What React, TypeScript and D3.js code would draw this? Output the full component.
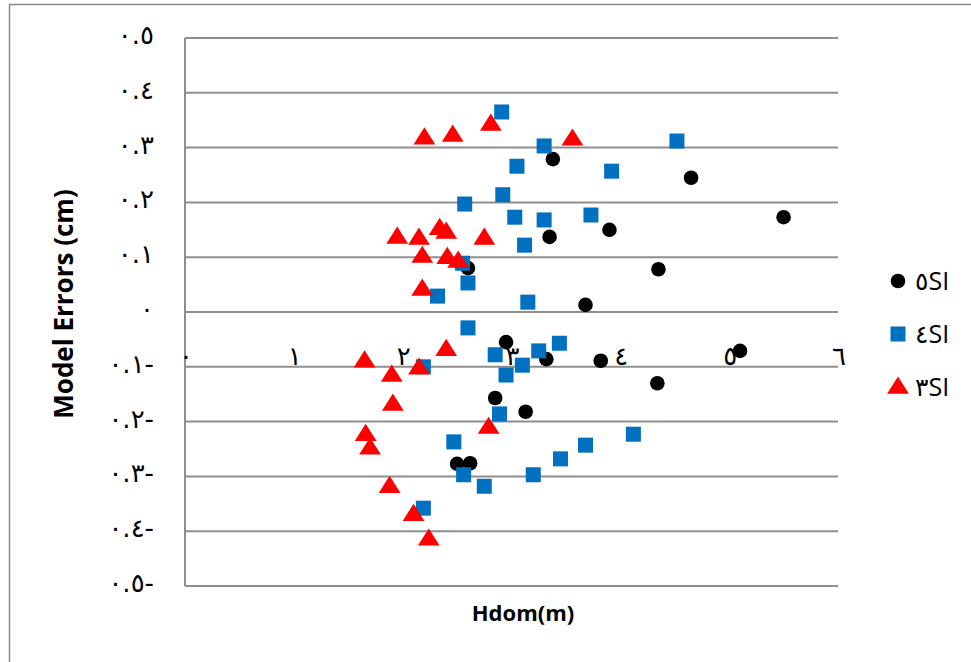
import * as d3 from "d3";

// series: SI5 (black circles), SI4 (blue squares), SI3 (red triangles)
const si5X = [3.38, 4.65, 5.5, 3.35, 3.9, 4.35, 2.6, 3.68, 2.95, 3.32, 3.82, 5.1, 4.34, 2.85, 3.13, 2.5, 2.62];
const si5Y = [0.279, 0.245, 0.173, 0.137, 0.15, 0.078, 0.08, 0.013, -0.055, -0.086, -0.089, -0.071, -0.13, -0.157, -0.182, -0.277, -0.276];

const si4X = [2.91, 3.3, 4.52, 3.05, 3.92, 2.92, 2.57, 3.03, 3.3, 3.73, 3.12, 2.55, 2.6, 2.32, 3.15, 2.6, 3.44, 3.25, 2.85, 3.1, 2.19, 2.95, 2.89, 2.47, 4.12, 3.68, 3.45, 2.56, 3.2, 2.75, 2.19];
const si4Y = [0.365, 0.303, 0.312, 0.266, 0.257, 0.214, 0.197, 0.173, 0.168, 0.177, 0.122, 0.089, 0.053, 0.029, 0.018, -0.029, -0.057, -0.071, -0.078, -0.097, -0.1, -0.115, -0.186, -0.237, -0.223, -0.243, -0.268, -0.297, -0.297, -0.318, -0.358];

const si3X = [2.2, 2.46, 2.81, 3.56, 1.95, 2.15, 2.34, 2.4, 2.75, 2.18, 2.41, 2.51, 2.18, 2.4, 1.65, 1.9, 2.15, 1.91, 2.79, 1.66, 1.7, 1.88, 2.1, 2.24];
const si3Y = [0.318, 0.323, 0.343, 0.316, 0.137, 0.135, 0.153, 0.146, 0.135, 0.102, 0.1, 0.093, 0.042, -0.068, -0.089, -0.115, -0.102, -0.168, -0.21, -0.223, -0.248, -0.318, -0.369, -0.414];

const xTicks = [0, 1, 2, 3, 4, 5, 6];
const xTickLabels = ["٠", "١", "٢", "٣", "٤", "٥", "٦"];
const yTicks = [0.5, 0.4, 0.3, 0.2, 0.1, 0, -0.1, -0.2, -0.3, -0.4, -0.5];
const yTickLabels = ["٠.٥", "٠.٤", "٠.٣", "٠.٢", "٠.١", "٠", "٠.١-", "٠.٢-", "٠.٣-", "٠.٤-", "٠.٥-"];
const legendLabels = ["٥SI", "٤SI", "٣SI"];

const W = 971, H = 662;
const margin = { left: 185, right: 133, top: 38, bottom: 76 };

export default function App() {
  const x = d3.scaleLinear().domain([0, 6]).range([margin.left, W - margin.right]);
  const y = d3.scaleLinear().domain([-0.5, 0.5]).range([H - margin.bottom, margin.top]);
  const tri = d3.symbol().type(d3.symbolTriangle).size(170)();
  const gridColor = "#8f8f8f";
  const tickFont = "'DejaVu Sans', sans-serif";

  const si5 = si5X.map((v, i) => [v, si5Y[i]]);
  const si4 = si4X.map((v, i) => [v, si4Y[i]]);
  const si3 = si3X.map((v, i) => [v, si3Y[i]]);

  return (
    <svg width={W} height={H} style={{ position: "absolute", left: 0, top: 0, background: "#fff" }}>
      <rect x={9.5} y={4.5} width={1000} height={700} fill="#fff" stroke="#8a8a8a" strokeWidth={1.5} />

      {/* gridlines */}
      {yTicks.map((t) => (
        <line key={t} x1={x(0)} x2={x(6)} y1={y(t)} y2={y(t)} stroke={gridColor} strokeWidth={2} />
      ))}
      <line x1={x(0)} x2={x(0)} y1={y(0.5)} y2={y(-0.5)} stroke={gridColor} strokeWidth={2} />

      {/* markers */}
      {si5.map((d, i) => (
        <circle key={"c" + i} cx={x(d[0])} cy={y(d[1])} r={7.3} fill="#000" />
      ))}
      {si4.map((d, i) => (
        <rect key={"s" + i} x={x(d[0]) - 7.5} y={y(d[1]) - 7.5} width={15} height={15} fill="#0070C0" />
      ))}
      {si3.map((d, i) => (
        <path key={"t" + i} d={tri || ""} transform={`translate(${x(d[0])},${y(d[1]) + 1}) scale(1.1,1)`} fill="#FF0000" />
      ))}

      {/* x tick labels sit on the -0.1 line */}
      {xTicks.map((t, i) => (
        <text key={t} x={x(t) + 1} y={y(-0.1) - 2} textAnchor="middle" fontFamily={tickFont} fontSize={26} fill="#000">
          {xTickLabels[i]}
        </text>
      ))}

      {yTicks.map((t, i) => (
        <text key={t} x={154} y={y(t) + 6} textAnchor="end" fontFamily={tickFont} fontSize={26} fill="#000">
          {yTickLabels[i]}
        </text>
      ))}

      {/* axis titles */}
      <text x={523} y={621} textAnchor="middle" fontFamily="'Open Sans', sans-serif" fontWeight="bold" fontSize={22} fill="#000">
        Hdom(m)
      </text>
      <text transform={`translate(73,${(176 + 432) / 2}) rotate(-90)`} textAnchor="middle" fontFamily="'Open Sans', sans-serif" fontWeight="bold" fontSize={26} fill="#000">
        Model Errors (cm)
      </text>

      {/* legend */}
      {legendLabels.map((l, i) => {
        const ly = 281 + i * 53;
        return (
          <g key={l}>
            {i === 0 && <circle cx={898} cy={ly} r={7.3} fill="#000" />}
            {i === 1 && <rect x={890.5} y={ly - 7.5} width={15} height={15} fill="#0070C0" />}
            {i === 2 && <path d={tri || ""} transform={`translate(898,${ly + 1}) scale(1.1,1)`} fill="#FF0000" />}
            <text x={915} y={ly + 9} fontFamily="'Open Sans', 'DejaVu Sans', sans-serif" fontSize={25} fill="#000">
              {l}
            </text>
          </g>
        );
      })}
    </svg>
  );
}
